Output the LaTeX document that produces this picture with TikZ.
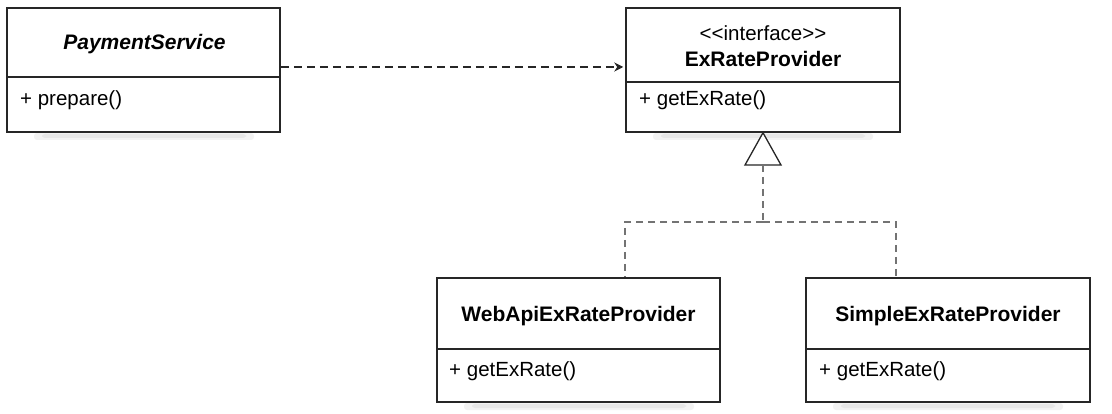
\documentclass[tikz,border=0pt]{standalone}
\usepackage{fontspec}
\setmainfont{Liberation Sans}
\usetikzlibrary{arrows.meta}
\begin{document}
\begin{tikzpicture}[x=1pt,y=-1pt,
  cls/.style={draw=black!85,line width=1.5pt,fill=white,rectangle,inner sep=0pt},
  shade1/.style={fill=black,opacity=0.05,rounded corners=3pt},
  divider/.style={draw=black!85,line width=1.3pt},
  txt/.style={inner sep=0pt,font=\fontsize{20.5}{24}\selectfont},
  ttl/.style={txt,font=\fontsize{21}{25}\selectfont\bfseries},
  dep/.style={draw=black!85,line width=1.3pt,dash pattern=on 8pt off 5pt,
    -{Stealth[length=9pt,width=9pt]},shorten >=2pt},
  real/.style={draw=black!55,line width=1.2pt,dash pattern=on 7pt off 5pt},
]
\useasboundingbox (0,0) rectangle (1112,414);

% soft shadows
\foreach \l/\r/\b in {34/254/132, 653/873/132, 464/694/402, 833/1063/402}{
  \fill[shade1] (\l,\b+1) rectangle (\r,\b+8);
  \fill[shade1] (\l+8,\b+2) rectangle (\r-8,\b+6);
}

% boxes
\node[cls,minimum width=273pt,minimum height=124pt] (ps) at (143.5,70) {};
\node[cls,minimum width=274pt,minimum height=124pt] (exr) at (763,70) {};
\node[cls,minimum width=283pt,minimum height=124pt] (web) at (578.5,340) {};
\node[cls,minimum width=284pt,minimum height=124pt] (simple) at (948,340) {};

% dividers
\draw[divider] (ps.west |- 0,77) -- (ps.east |- 0,77);
\draw[divider] (exr.west |- 0,82) -- (exr.east |- 0,82);
\draw[divider] (web.west |- 0,349) -- (web.east |- 0,349);
\draw[divider] (simple.west |- 0,349) -- (simple.east |- 0,349);

% texts
\node[ttl,font=\fontsize{21}{25}\selectfont\bfseries\itshape] (psT) at (144.5,44) {PaymentService};
\node[txt,anchor=west] (psM) at (20,100) {+ prepare()};

\node[txt] (exrS) at (763,33) {<{}<interface>{}>};
\node[ttl] (exrT) at (763,59) {ExRateProvider};
\node[txt,anchor=west] (exrM) at (639,100) {+ getExRate()};

\node[ttl] (webT) at (578.5,316) {WebApiExRateProvider};
\node[txt,anchor=west] (webM) at (449,371) {+ getExRate()};

\node[ttl] (simpleT) at (948,316) {SimpleExRateProvider};
\node[txt,anchor=west] (simpleM) at (819,371) {+ getExRate()};

% dependency
\draw[dep] (ps.east |- 0,67) -- (exr.west |- 0,67);

% realization
\coordinate (tri) at (763,165);
\coordinate (j) at (763,222);
\draw[line width=1.3pt,draw=black!85,fill=white,line join=miter]
  (exr.south) -- (745,165) -- (781,165) -- cycle;
\draw[real] (tri) -- (j);
\draw[real] (j) -| ([xshift=46.5pt]web.north);
\draw[real] (j) -| ([xshift=-52pt]simple.north);
\end{tikzpicture}
\end{document}
